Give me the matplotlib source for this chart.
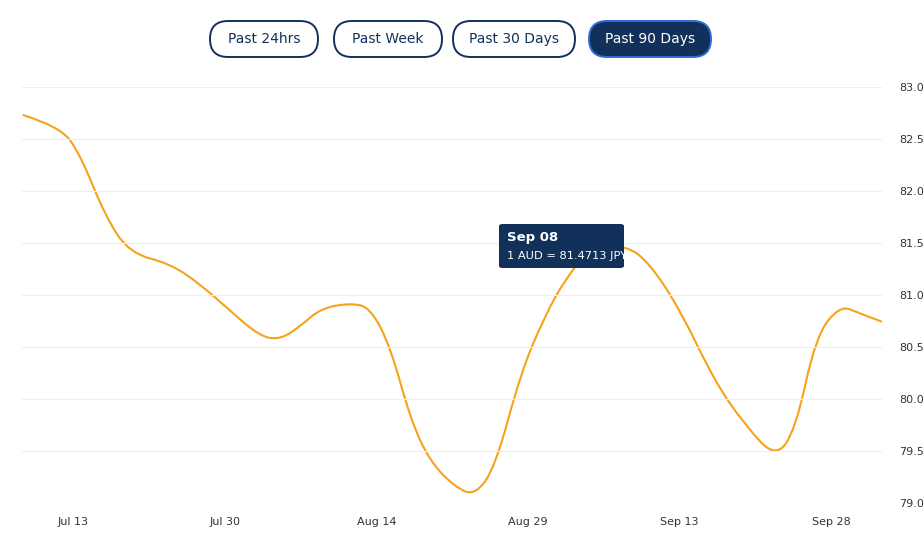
import matplotlib.pyplot as plt
from matplotlib.patches import FancyBboxPatch, PathPatch
from matplotlib.path import Path

# days counted from Jul 13
days = [-5.0, -1.3, 0.7, 3.2, 5.6, 9.6, 12.6, 15.5, 18.5, 20.5, 22.5, 24.5, 27.4,
        29.4, 31.4, 33.4, 35.3, 37.8, 39.8, 41.8, 44.3, 46.7, 48.7, 51.2, 54.7,
        57.1, 60.1, 63.6, 66.5, 69.5, 71.5, 73.5, 75.9, 77.9, 80.1]
rate = [82.73, 82.62, 82.35, 81.75, 81.40, 81.30, 81.10, 80.85, 80.60, 80.57,
        80.70, 80.87, 80.92, 80.88, 80.50, 79.80, 79.40, 79.15, 79.07, 79.35,
        80.25, 80.80, 81.15, 81.45, 81.48, 81.30, 80.85, 80.15, 79.75, 79.43,
        79.70, 80.60, 80.90, 80.82, 80.74]
tick_days = [0, 15, 30, 45, 60, 75]
tick_labels = ["Jul 13", "Jul 30", "Aug 14", "Aug 29", "Sep 13", "Sep 28"]
y_ticks = [79.0, 79.5, 80.0, 80.5, 81.0, 81.5, 82.0, 82.5, 83.0]
buttons = ["Past 24hrs", "Past Week", "Past 30 Days", "Past 90 Days"]

fig = plt.figure(figsize=(9.24, 5.43), dpi=100)
ax = fig.add_axes([0.024, 0.074, 0.931, 0.766])

# smooth curve: quadratic segments through midpoints of the data points
pts = list(zip(days, rate))
verts = [pts[0]]
codes = [Path.MOVETO]
for i in range(1, len(pts) - 1):
    mid = ((pts[i][0] + pts[i + 1][0]) / 2, (pts[i][1] + pts[i + 1][1]) / 2)
    verts += [pts[i], mid]
    codes += [Path.CURVE3, Path.CURVE3]
verts.append(pts[-1])
codes.append(Path.LINETO)
ax.add_patch(PathPatch(Path(verts, codes), fill=False, ec="#f7a21b", lw=1.5))

ax.set_xlim(-5.05, 80.1)
ax.set_ylim(79.0, 83.0)
ax.set_xticks(tick_days)
ax.set_xticklabels(tick_labels)
ax.set_yticks(y_ticks)
ax.set_yticklabels([f"{v:.1f}" for v in y_ticks])
ax.yaxis.tick_right()
ax.tick_params(length=0, labelsize=8, colors="#333333")
ax.tick_params(axis="x", pad=10)
ax.tick_params(axis="y", pad=12)
ax.grid(axis="y", color="#eeeeee", lw=0.8)
for s in ax.spines.values():
    s.set_visible(False)

# tooltip
fig.patches.append(FancyBboxPatch(
    (499 / 924, 1 - 268 / 543), 125 / 924, 44 / 543,
    boxstyle="round,pad=0,rounding_size=0.004", transform=fig.transFigure,
    fc="#12315a", ec="none", zorder=5))
fig.text(507 / 924, 1 - 237 / 543, "Sep 08", fontsize=9.5, fontweight="bold",
         color="white", va="center", ha="left", zorder=6)
fig.text(507 / 924, 1 - 256 / 543, "1 AUD = 81.4713 JPY", fontsize=8.2,
         color="white", va="center", ha="left", zorder=6)

# range buttons
centers = [264, 388, 514, 650]
widths = [108, 108, 122, 122]
for i, (lab, cx, w) in enumerate(zip(buttons, centers, widths)):
    active = i == 3
    fig.patches.append(FancyBboxPatch(
        ((cx - w / 2) / 924, 1 - 57 / 543), w / 924, 36 / 543,
        boxstyle="round,pad=0,rounding_size=0.0195", transform=fig.transFigure,
        fc="#12315a" if active else "white",
        ec="#2f6bd8" if active else "#12315a", lw=1.4, mutation_aspect=1.7))
    fig.text(cx / 924, 1 - 39 / 543, lab, ha="center", va="center", fontsize=10,
             color="white" if active else "#12315a")

fig.savefig("out.png")
